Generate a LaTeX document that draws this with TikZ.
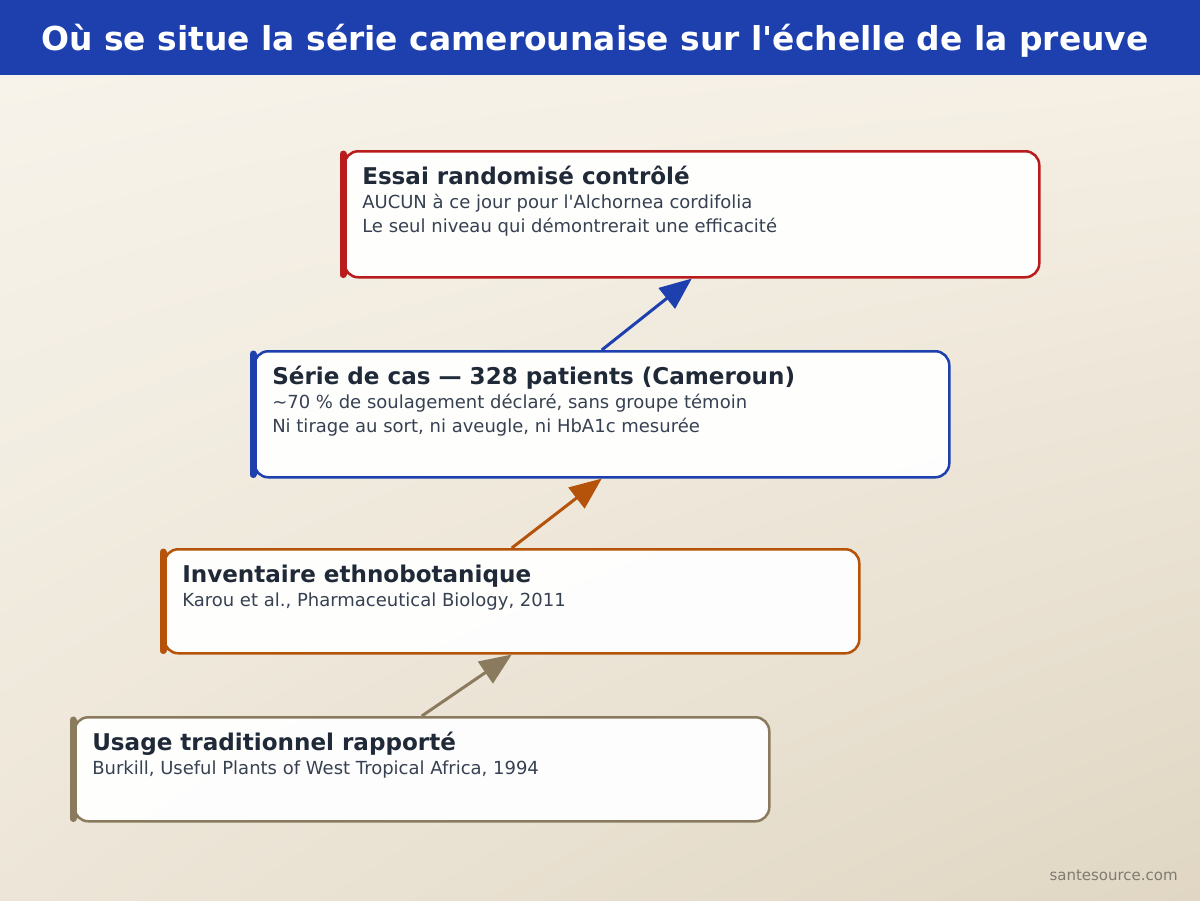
\documentclass[tikz,border=0pt]{standalone}
\usepackage{fontspec}
\setmainfont{DejaVu Sans}
\usetikzlibrary{arrows.meta,positioning,calc,shadings}
\definecolor{headblue}{HTML}{1E40AF}
\definecolor{rctred}{HTML}{B91C1C}
\definecolor{caseblue}{HTML}{1E40AF}
\definecolor{ethnoorange}{HTML}{B45309}
\definecolor{usagebrown}{HTML}{8B7B5E}
\definecolor{titleink}{HTML}{1F2937}
\definecolor{bodyink}{HTML}{374151}
\definecolor{markgray}{HTML}{807A70}
\definecolor{paperUL}{HTML}{F7F3EA}
\definecolor{paperUR}{HTML}{F5EFE4}
\definecolor{paperLL}{HTML}{EDE6D8}
\definecolor{paperLR}{HTML}{E0D6C3}
\tikzset{evidence box/.style={draw=#1, line width=1.9pt, fill=white, fill opacity=0.96,
rounded corners=10.5pt, anchor=north west, inner sep=0pt, minimum width=521.25pt},
evidence bar/.style={draw=#1, line width=5.25pt, line cap=round},
climb/.style={-{Triangle[length=24pt,width=19.5pt]}, line width=2.25pt, draw=#1},
box title/.style={anchor=base west, inner sep=0pt, font=\bfseries\fontsize{17.3}{21}\selectfont, text=titleink},
box line/.style={anchor=base west, inner sep=0pt, font=\fontsize{13.5}{16}\selectfont, text=bodyink}}

\begin{document}
\begin{tikzpicture}[x=0.75pt, y=-0.75pt]
        \useasboundingbox (0,0) rectangle (1200,900);
        \shade[upper left=paperUL, upper right=paperUR, lower left=paperLL, lower right=paperLR]
              (0,75) rectangle (1200,900);
        \fill[headblue] (0,0) rectangle (1200,75);
        \node[anchor=base, inner sep=0pt, text=white, font=\bfseries\fontsize{24.7}{29}\selectfont] (heading) at (595,50)
              {Où se situe la série camerounaise sur l\textquotesingle échelle de la preuve};

        \coordinate (essai pos) at (343,150);
        \coordinate (serie pos) at (253,350);
        \coordinate (inventaire pos) at (163,548);
        \coordinate (usage pos) at (73,716);

        \node[evidence box=rctred, minimum height=94.5pt] (essai) at (essai pos) {};
        \node[evidence box=caseblue, minimum height=94.5pt] (serie) at (serie pos) {};
        \node[evidence box=ethnoorange, minimum height=78pt] (inventaire) at (inventaire pos) {};
        \node[evidence box=usagebrown, minimum height=78pt] (usage) at (usage pos) {};

        \draw (serie.north) edge[climb=caseblue] (essai.south)
              (inventaire.north) edge[climb=ethnoorange] (serie.south)
              (usage.north) edge[climb=usagebrown] (inventaire.south);

        \draw[evidence bar=rctred] ($(essai.north west)+(0,4)$) -- ($(essai.south west)+(0,-4)$);
        \draw[evidence bar=caseblue] ($(serie.north west)+(0,4)$) -- ($(serie.south west)+(0,-4)$);
        \draw[evidence bar=ethnoorange] ($(inventaire.north west)+(0,4)$) -- ($(inventaire.south west)+(0,-4)$);
        \draw[evidence bar=usagebrown] ($(usage.north west)+(0,4)$) -- ($(usage.south west)+(0,-4)$);

        \node[box title] (essai title) at ($(essai.north west)+(19,34)$) {Essai randomisé contrôlé};
        \node[box line] (essai a) at ($(essai.north west)+(19,58)$) {AUCUN à ce jour pour l\textquotesingle Alchornea cordifolia};
        \node[box line] (essai b) at ($(essai.north west)+(19,82)$) {Le seul niveau qui démontrerait une efficacité};

        \node[box title] (serie title) at ($(serie.north west)+(19,34)$) {Série de cas — 328 patients (Cameroun)};
        \node[box line] (serie a) at ($(serie.north west)+(19,58)$) {\textasciitilde70 \% de soulagement déclaré, sans groupe témoin};
        \node[box line] (serie b) at ($(serie.north west)+(19,82)$) {Ni tirage au sort, ni aveugle, ni HbA1c mesurée};

        \node[box title] (inventaire title) at ($(inventaire.north west)+(19,34)$) {Inventaire ethnobotanique};
        \node[box line] (inventaire a) at ($(inventaire.north west)+(19,58)$) {Karou et al., Pharmaceutical Biology, 2011};

        \node[box title] (usage title) at ($(usage.north west)+(19,34)$) {Usage traditionnel rapporté};
        \node[box line] (usage a) at ($(usage.north west)+(19,58)$) {Burkill, Useful Plants of West Tropical Africa, 1994};

        \node[anchor=base east, inner sep=0pt, text=markgray, font=\fontsize{11.25}{14}\selectfont] (mark) at (1178,880) {santesource.com};
    \end{tikzpicture}
\end{document}
